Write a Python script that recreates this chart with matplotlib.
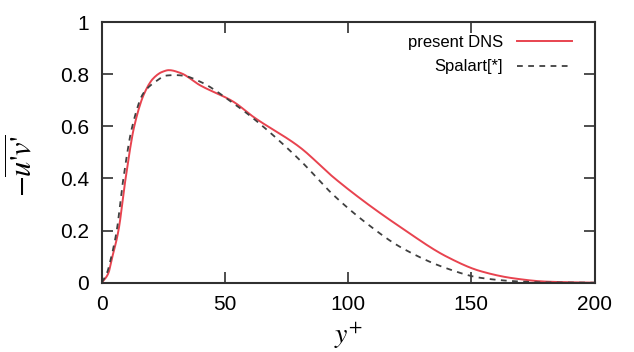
import numpy as np
import matplotlib
matplotlib.use('Agg')
import matplotlib.pyplot as plt
from matplotlib.ticker import FormatStrFormatter

plt.rcParams['font.family'] = ['Liberation Sans', 'DejaVu Sans']
plt.rcParams['mathtext.fontset'] = 'stix'

# present DNS
dns_y = [0, 2.7, 4.0, 6.8, 9.7, 13.2, 17.3, 21.0, 24.5, 27.3, 32, 39.9, 53.4, 61.5,
         80.4, 94, 107.5, 121, 140, 153.5, 167, 180.6, 200]
dns_uv = [0, 0.036, 0.087, 0.2, 0.4, 0.6, 0.727, 0.785, 0.809, 0.816, 0.805, 0.758, 0.695, 0.637,
          0.520, 0.405, 0.305, 0.215, 0.100, 0.045, 0.017, 0.004, 0.0]

# Spalart reference
spa_y = [0, 2.1, 3.6, 6.1, 8.8, 12.4, 16.9, 22.3, 26, 29.7, 33, 39.9, 53.4, 61.5,
         80.4, 94, 107.5, 121, 140, 153.5, 167, 180.6, 200]
spa_uv = [0, 0.036, 0.087, 0.2, 0.4, 0.6, 0.727, 0.775, 0.795, 0.797, 0.795, 0.772, 0.689, 0.631,
          0.471, 0.337, 0.228, 0.138, 0.055, 0.019, 0.006, 0.001, 0.0]

x_ticks = [0, 50, 100, 150, 200]
y_ticks = [0, 0.2, 0.4, 0.6, 0.8, 1.0]


def smooth(x, y, n=400):
    # monotone cubic (PCHIP-like) through the read points
    x = np.asarray(x, float)
    y = np.asarray(y, float)
    h = np.diff(x)
    d = np.diff(y) / h
    m = np.zeros_like(y)
    m[0], m[-1] = d[0], d[-1]
    for i in range(1, len(y) - 1):
        if d[i - 1] * d[i] <= 0:
            m[i] = 0
        else:
            w1 = 2 * h[i] + h[i - 1]
            w2 = h[i] + 2 * h[i - 1]
            m[i] = (w1 + w2) / (w1 / d[i - 1] + w2 / d[i])
    xs = np.linspace(x[0], x[-1], n)
    k = np.clip(np.searchsorted(x, xs) - 1, 0, len(x) - 2)
    t = (xs - x[k]) / h[k]
    h00 = 2 * t**3 - 3 * t**2 + 1
    h10 = t**3 - 2 * t**2 + t
    h01 = -2 * t**3 + 3 * t**2
    h11 = t**3 - t**2
    ys = h00 * y[k] + h10 * h[k] * m[k] + h01 * y[k + 1] + h11 * h[k] * m[k + 1]
    return xs, ys


fig = plt.figure(figsize=(6.34, 3.52), dpi=100)
ax = fig.add_axes([0.1604, 0.1969, 0.7773, 0.74])

xs, ys = smooth(dns_y, dns_uv)
ax.plot(xs, ys, color='#e8434f', lw=1.4, label='present DNS')
xs, ys = smooth(spa_y, spa_uv)
ax.plot(xs, ys, color='#404040', lw=1.3, dashes=(3.2, 3.0), label='Spalart[*]')

ax.set_xlim(0, 200)
ax.set_ylim(0, 1)
ax.set_xticks(x_ticks)
ax.set_yticks(y_ticks)
ax.yaxis.set_major_formatter(FormatStrFormatter('%g'))
ax.tick_params(direction='in', length=8, width=1.2, top=True, right=True,
               labelsize=15, pad=9, color='#303030')
for s in ax.spines.values():
    s.set_linewidth(1.5)
    s.set_color('#303030')

ax.set_xlabel('$y^{+}$', fontsize=20)
ax.xaxis.set_label_coords(0.5, -0.145)
ax.set_ylabel(r"$-\overline{u\text{'}v\text{'}}$", fontsize=22, va='center')
ax.yaxis.set_label_coords(-0.16, 0.45)

ax.legend(loc='upper right', bbox_to_anchor=(0.954, 0.95), frameon=False,
          markerfirst=False, fontsize=12, handlelength=3.3, handletextpad=0.85,
          labelspacing=0.55, borderpad=0, borderaxespad=0)

fig.savefig('out.png', dpi=100)
